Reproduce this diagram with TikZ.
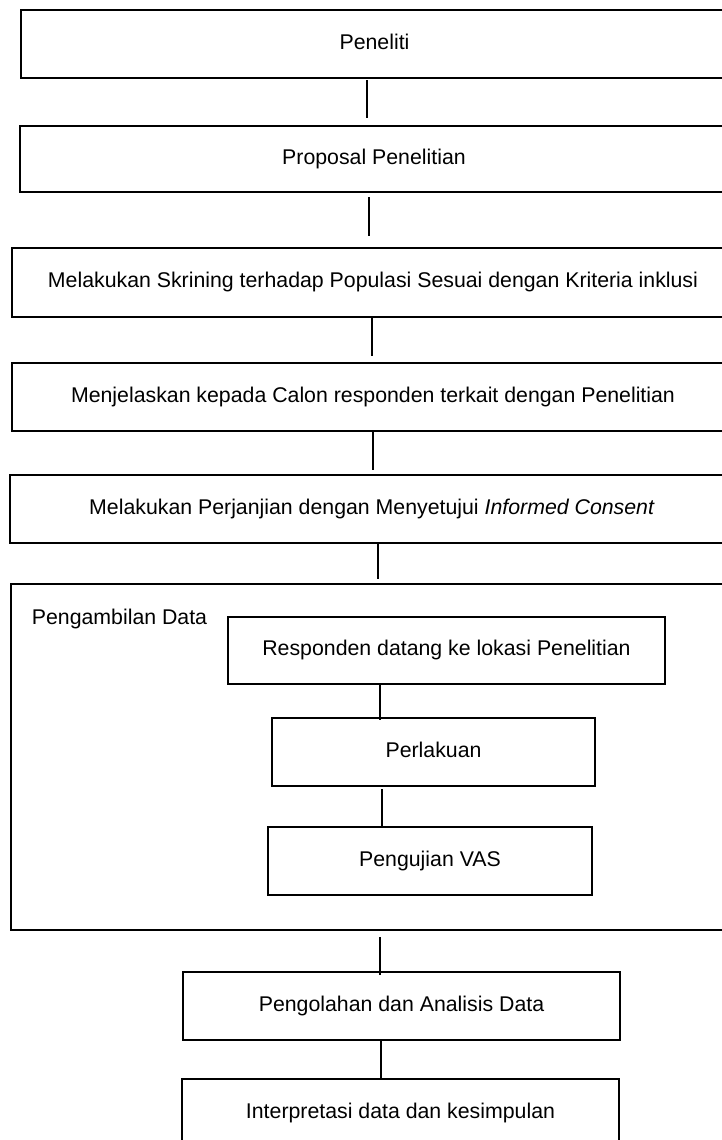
\documentclass[tikz,border=0pt]{standalone}
\usepackage{fontspec}
\setmainfont{Liberation Sans}
\begin{document}
\begin{tikzpicture}[x=1pt,y=-1pt,
  box/.style={draw=black, line width=1.7pt, rectangle, anchor=north west, inner sep=0pt, outer sep=0pt,
    font=\fontsize{21.3}{25}\selectfont, text height=15pt, text depth=4.5pt},
  conn/.style={draw=black, line width=1.6pt},
  lbl/.style={inner sep=0pt, font=\fontsize{21.3}{25}\selectfont}]
\useasboundingbox (0,0) rectangle (722,1140);
\clip (0,0) rectangle (722,1140);
\node[box, minimum width=707pt, minimum height=68pt] (b1) at (21,10) {Peneliti};
\node[box, minimum width=708pt, minimum height=66.3pt] (b2) at (20,125.7) {Proposal Penelitian};
\node[box, minimum width=722pt, minimum height=69pt] (b3) at (12,248) {Melakukan Skrining terhadap Populasi Sesuai dengan Kriteria inklusi};
\node[box, minimum width=722pt, minimum height=68pt] (b4) at (12,363) {Menjelaskan kepada Calon responden terkait dengan Penelitian};
\node[box, minimum width=724pt, minimum height=68pt] (b5) at (10,475) {Melakukan Perjanjian dengan Menyetujui \textit{Informed Consent}};
\node[box, minimum width=718pt, minimum height=346pt] (out) at (11,584) {};
\draw[line width=2.4pt] (out.south west) -- (out.south east);
\node[lbl, anchor=base west] (pd) at (31.7,624) {Pengambilan Data};
\node[box, minimum width=437pt, minimum height=67pt] (r1) at (228,617) {Responden datang ke lokasi Penelitian};
\node[box, minimum width=323pt, minimum height=68pt] (p) at (272,718) {Perlakuan};
\node[box, minimum width=324pt, minimum height=68pt] (v) at (268,827) {Pengujian VAS};
\node[box, minimum width=437pt, minimum height=68pt] (g) at (183,972) {Pengolahan dan Analisis Data};
\node[box, minimum width=437pt, minimum height=68pt] (i) at (182,1079) {Interpretasi data dan kesimpulan};
\draw[conn] ([xshift=-7.5pt,yshift=-2pt]b1.south) -- ([xshift=-7pt,yshift=7.7pt]b2.north);
\draw[conn] ([xshift=-5pt,yshift=-5pt]b2.south) -- ([xshift=-4pt,yshift=12pt]b3.north);
\draw[conn] ([xshift=-1pt]b3.south) -- ([xshift=-1pt,yshift=7pt]b4.north);
\draw[conn] ([xshift=0pt]b4.south) -- ([xshift=1pt,yshift=5pt]b5.north);
\draw[conn] ([xshift=6pt,yshift=1pt]b5.south) -- ([xshift=8pt,yshift=5pt]out.north);
\draw[conn] ([xshift=-66.5pt]r1.south) -- ([xshift=-53.5pt,yshift=-2pt]p.north);
\draw[conn] ([xshift=-51.5pt,yshift=-3pt]p.south) -- ([xshift=-48pt]v.north);
\draw[conn] ([xshift=10pt,yshift=-7pt]out.south) -- ([xshift=-21.5pt,yshift=-3pt]g.north);
\draw[conn] ([xshift=-20.5pt]g.south) -- ([xshift=-19.5pt,yshift=1pt]i.north);
\end{tikzpicture}
\end{document}
